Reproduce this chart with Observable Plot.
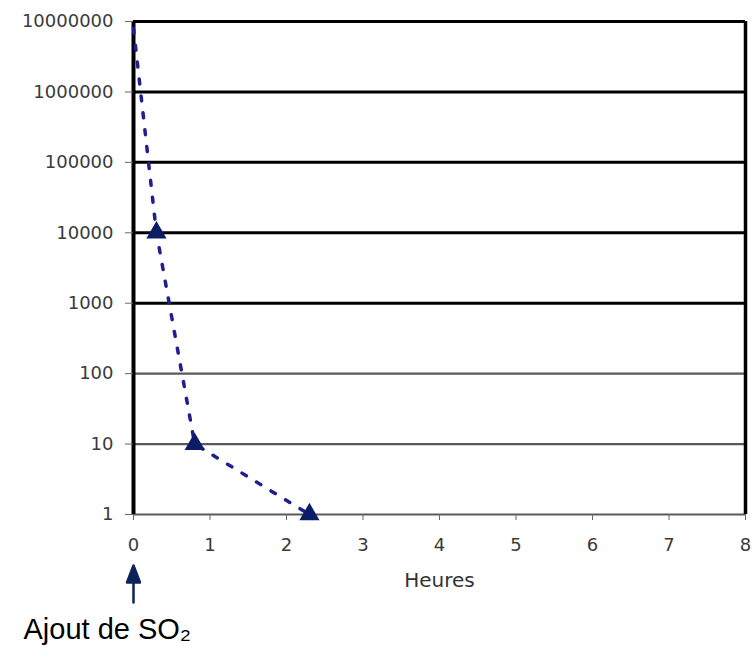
<!DOCTYPE html>
<html><head><meta charset="utf-8">
<script src="https://cdn.jsdelivr.net/npm/d3@7"></script>
<script src="https://cdn.jsdelivr.net/npm/@observablehq/plot@0.6"></script>
<style>body{margin:0;background:#fff} svg{display:block}</style>
</head><body><div id="chart"></div>
<script>
// Data
const hours = [0, 0.3, 0.8, 2.3];
const counts = [8000000, 10000, 10, 1];
const markerHours = [0.3, 0.8, 2.3];
const markerCounts = [10000, 10, 1];
const yTicks = [1, 10, 100, 1000, 10000, 100000, 1000000, 10000000];
const xTicks = [0, 1, 2, 3, 4, 5, 6, 7, 8];
const majorGrid = [1000, 10000, 100000, 1000000, 10000000];
const minorGrid = [1, 10, 100];
const xLabel = "Heures";
const xLabelAt = [4];
const note = "Ajout de SO₂";
const noteAt = [0];

const series = hours.map((h, i) => ({h, c: counts[i]}));
const markers = markerHours.map((h, i) => ({h, c: markerCounts[i]}));

const lineColor = "#1f1f8f";
const markColor = "#0c1c66";
const arrowColor = "#0d2358";
const arrowShape = {
  draw(context, l) {
    context.moveTo(0, 0);
    context.lineTo(0, -l + 14);
    context.moveTo(-6.5, -l + 17);
    context.lineTo(0, -l);
    context.lineTo(6.5, -l + 17);
    context.closePath();
  }
};

const chart = Plot.plot({
  width: 753, height: 646,
  marginLeft: 133, marginRight: 8, marginTop: 21, marginBottom: 132,
  style: {fontFamily: "DejaVu Sans", background: "#fff", overflow: "visible"},
  x: {domain: [0, 8]},
  y: {type: "log", domain: [1, 1e7]},
  marks: [
    Plot.ruleY(minorGrid, {stroke: "#5a5a5a", strokeWidth: 2.2}),
    Plot.ruleY(majorGrid, {stroke: "#000", strokeWidth: 3}),
    Plot.ruleX([0], {stroke: "#000", strokeWidth: 4}),
    Plot.ruleX([8], {stroke: "#000", strokeWidth: 3.5}),
    Plot.axisY({ticks: yTicks, tickFormat: d => String(d), tickSize: 8, tickPadding: 12,
      fontSize: 18, fill: "#3a3a3a", stroke: "#666", label: null}),
    Plot.axisX({ticks: xTicks, tickSize: 6, tickPadding: 18,
      fontSize: 18, fill: "#3a3a3a", stroke: "#666", label: null}),
    Plot.line(series, {x: "h", y: "c", stroke: lineColor, strokeWidth: 3.5, strokeDasharray: "5,12"}),
    Plot.dot(markers, {x: "h", y: "c", symbol: "triangle", r: 7.5, fill: markColor, stroke: "none"}),
    Plot.text(xLabelAt, {x: d => d, text: () => xLabel, frameAnchor: "bottom", dy: 58,
      lineAnchor: "top", fontSize: 20, fill: "#333"}),
    Plot.vector(noteAt, {x: d => d, frameAnchor: "bottom", dy: 88, length: 37, rotate: 0,
      anchor: "start", shape: arrowShape, stroke: arrowColor, fill: arrowColor, strokeWidth: 2.5}),
    Plot.text(noteAt, {x: d => d, text: () => note, frameAnchor: "bottom", dy: 104, dx: -110,
      textAnchor: "start", lineAnchor: "top", fontSize: 29,
      fontFamily: "Liberation Sans, Arial, sans-serif", fill: "#000"})
  ]
});
document.getElementById("chart").append(chart);
</script>
</body></html>
